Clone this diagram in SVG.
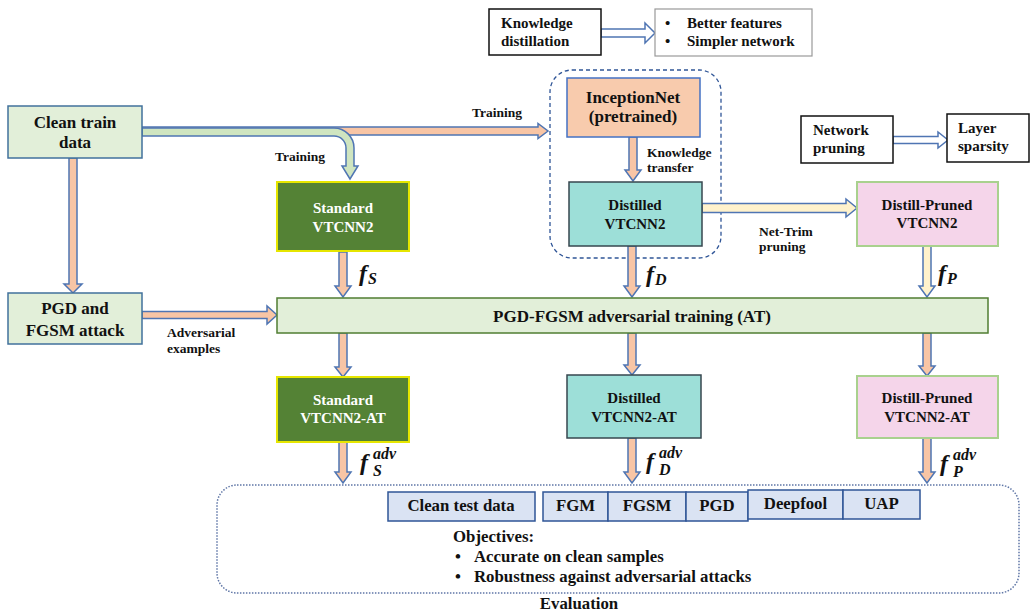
<svg xmlns="http://www.w3.org/2000/svg" width="1031" height="614" viewBox="0 0 1031 614">
  <style>
    text { font-family: "Liberation Serif", "Times New Roman", serif; font-weight: bold; fill: #111; }
    .t17 { font-size: 17px; }
    .t16 { font-size: 16.8px; }
    .t15 { font-size: 15px; }
    .t14 { font-size: 13.5px; }
    .mid { text-anchor: middle; }
    .wht { fill: #ffffff; }
    .math { font-style: italic; }
    .greenbox { fill: #e2efd9; stroke: #41719c; stroke-width: 1.5; }
    .std { fill: #548235; stroke: #e6e600; stroke-width: 2; }
    .dist { fill: #9ddfd8; stroke: #37474f; stroke-width: 1.5; }
    .prun { fill: #f5d5ea; stroke: #a9d18e; stroke-width: 2; }
    .incep { fill: #f8cbad; stroke: #4472c4; stroke-width: 1.5; }
    .note { fill: #ffffff; stroke: #111; stroke-width: 1.5; }
    .note2 { fill: #ffffff; stroke: #999; stroke-width: 1.2; }
    .at { fill: #e2efd9; stroke: #507e32; stroke-width: 1.5; }
    .evalbox { fill: #dae3f3; stroke: #2f5597; stroke-width: 1.5; }
    .arr { fill: #f8c5a5; stroke: #4f75b3; stroke-width: 1.5; stroke-linejoin: miter; }
    .arrY { fill: #fff2cc; stroke: #4f75b3; stroke-width: 1.5; }
    .arrG { fill: #cfe5c0; stroke: #4f75b3; stroke-width: 1.5; }
    .arrW { fill: #ffffff; stroke: #4f75b3; stroke-width: 1.5; }
  </style>

  <!-- group frames -->
  <rect id="kd-frame" x="550" y="70" width="171" height="188" rx="22" fill="none" stroke="#2f5597" stroke-width="1.3" stroke-dasharray="4 3"/>
  <rect id="eval-frame" x="217" y="485" width="802" height="108" rx="20" fill="none" stroke="#5f76a6" stroke-width="1.5" stroke-dasharray="1.5 1.5"/>

  <!-- connectors -->
  <g id="connectors">
    <!-- clean data to teacher training -->
    <path class="arr" d="M142,127 L538,127 L538,123.5 L548,131 L538,138.5 L538,135 L142,135 Z"/>
    <!-- clean data to standard training (curved) -->
    <path class="arrG" d="M142,128 L334,128 A20,20 0 0 1 354,148 L354,166 L358,166 L350,179 L342,166 L346,166 L346,148 A12,12 0 0 0 334,136 L142,136 Z"/>
    <!-- clean data to attack generation -->
    <path class="arr" d="M69,158 L77,158 L77,284 L82,284 L73,293 L64,284 L69,284 Z"/>
    <!-- adversarial examples to AT -->
    <path class="arr" d="M142,311.5 L267,311.5 L267,306 L277,315 L267,324 L267,318.5 L142,318.5 Z"/>
    <!-- knowledge transfer -->
    <path class="arr" d="M629,137 L637,137 L637,170 L641,170 L633,181 L625,170 L629,170 Z"/>
    <!-- Net-Trim pruning -->
    <path class="arrY" d="M702,203.5 L846,203.5 L846,199 L857,208 L846,217 L846,212.5 L702,212.5 Z"/>
    <!-- f_S, f_D, f_P into AT -->
    <path class="arr" d="M339,252 L347,252 L347,286 L351,286 L343,297 L335,286 L339,286 Z"/>
    <path class="arr" d="M628,246 L636,246 L636,286 L640,286 L632,297 L624,286 L628,286 Z"/>
    <path class="arrY" d="M923,246 L931,246 L931,286 L935,286 L927,297 L919,286 L923,286 Z"/>
    <!-- AT outputs -->
    <path class="arr" d="M339,333 L347,333 L347,367 L351,367 L343,377 L335,367 L339,367 Z"/>
    <path class="arr" d="M628,333 L636,333 L636,365 L640,365 L632,375 L624,365 L628,365 Z"/>
    <path class="arr" d="M923,333 L931,333 L931,366 L935,366 L927,376 L919,366 L923,366 Z"/>
    <!-- robust models to evaluation -->
    <path class="arr" d="M339,442 L347,442 L347,472 L351,472 L343,483 L335,472 L339,472 Z"/>
    <path class="arr" d="M628,438 L636,438 L636,472 L640,472 L632,483 L624,472 L628,472 Z"/>
    <path class="arr" d="M923,438 L931,438 L931,472 L935,472 L927,483 L919,472 L923,472 Z"/>
    <!-- legend arrows -->
    <path class="arrW" d="M601,29 L645,29 L645,23 L655,33 L645,43 L645,37 L601,37 Z"/>
    <path class="arrW" d="M893,136.5 L938,136.5 L938,132 L948,140 L938,148 L938,143.5 L893,143.5 Z"/>
  </g>

  <!-- connector labels -->
  <g id="labels">
    <text class="t14" x="472" y="117">Training</text>
    <text class="t14" x="275" y="161">Training</text>
    <text class="t14" x="647" y="157">Knowledge</text>
    <text class="t14" x="647" y="172">transfer</text>
    <text class="t14" x="759" y="236">Net-Trim</text>
    <text class="t14" x="759" y="251">pruning</text>
    <text class="t14" x="167" y="337">Adversarial</text>
    <text class="t14" x="167" y="353">examples</text>
    <text class="math" font-size="24" x="359" y="281">f<tspan font-size="16" dx="1" dy="3">S</tspan></text>
    <text class="math" font-size="24" x="646" y="282">f<tspan font-size="16" dx="1" dy="3">D</tspan></text>
    <text class="math" font-size="24" x="938" y="281">f<tspan font-size="16" dx="1" dy="3">P</tspan></text>
    <text class="math" font-size="24" x="360" y="470">f</text>
    <text class="math" font-size="16" x="373" y="459">adv</text>
    <text class="math" font-size="16" x="373" y="476">S</text>
    <text class="math" font-size="24" x="646" y="469">f</text>
    <text class="math" font-size="16" x="659" y="458">adv</text>
    <text class="math" font-size="16" x="659" y="475">D</text>
    <text class="math" font-size="24" x="940" y="471">f</text>
    <text class="math" font-size="16" x="953" y="460">adv</text>
    <text class="math" font-size="16" x="953" y="477">P</text>
  </g>

  <!-- nodes -->
  <g id="clean-train">
    <rect class="greenbox" x="8" y="106" width="134" height="52"/>
    <text class="t17 mid" x="75" y="128">Clean train</text>
    <text class="t17 mid" x="75" y="148">data</text>
  </g>
  <g id="attack">
    <rect class="greenbox" x="8" y="293" width="134" height="51"/>
    <text class="t17 mid" x="75" y="314">PGD and</text>
    <text class="t17 mid" x="75" y="336">FGSM attack</text>
  </g>
  <g id="kd-note">
    <rect class="note" x="489" y="9" width="112" height="46"/>
    <text class="t15" x="501" y="28">Knowledge</text>
    <text class="t15" x="501" y="46">distillation</text>
  </g>
  <g id="kd-benefits">
    <rect class="note2" x="655" y="9" width="157" height="47"/>
    <text class="t15" x="665" y="28">•</text>
    <text class="t15" x="687" y="28">Better features</text>
    <text class="t15" x="665" y="46">•</text>
    <text class="t15" x="687" y="46">Simpler network</text>
  </g>
  <g id="pruning-note">
    <rect class="note" x="801" y="116" width="92" height="47"/>
    <text class="t15" x="813" y="135">Network</text>
    <text class="t15" x="813" y="153">pruning</text>
  </g>
  <g id="pruning-benefit">
    <rect class="note" x="947" y="114" width="82" height="48"/>
    <text class="t15" x="958" y="133">Layer</text>
    <text class="t15" x="958" y="151">sparsity</text>
  </g>
  <g id="inception">
    <rect class="incep" x="567" y="78" width="133" height="59"/>
    <text class="t17 mid" x="633" y="103">InceptionNet</text>
    <text class="t17 mid" x="633" y="122">(pretrained)</text>
  </g>
  <g id="standard">
    <rect class="std" x="277" y="182" width="132" height="69"/>
    <text class="t15 mid wht" x="343" y="213">Standard</text>
    <text class="t15 mid wht" x="343" y="232">VTCNN2</text>
  </g>
  <g id="distilled">
    <rect class="dist" x="569" y="182" width="133" height="64"/>
    <text class="t15 mid" x="635" y="210">Distilled</text>
    <text class="t15 mid" x="635" y="229">VTCNN2</text>
  </g>
  <g id="distill-pruned">
    <rect class="prun" x="857" y="182" width="141" height="64"/>
    <text class="t15 mid" x="927" y="210">Distill-Pruned</text>
    <text class="t15 mid" x="927" y="228">VTCNN2</text>
  </g>
  <g id="adv-training">
    <rect class="at" x="277" y="298" width="711" height="35"/>
    <text class="t17 mid" x="632" y="322">PGD-FGSM adversarial training (AT)</text>
  </g>
  <g id="standard-at">
    <rect class="std" x="277" y="377" width="132" height="65"/>
    <text class="t15 mid wht" x="343" y="405">Standard</text>
    <text class="t15 mid wht" x="343" y="423">VTCNN2-AT</text>
  </g>
  <g id="distilled-at">
    <rect class="dist" x="567" y="375" width="134" height="63"/>
    <text class="t15 mid" x="634" y="403">Distilled</text>
    <text class="t15 mid" x="634" y="422">VTCNN2-AT</text>
  </g>
  <g id="distill-pruned-at">
    <rect class="prun" x="857" y="376" width="141" height="62"/>
    <text class="t15 mid" x="927" y="403">Distill-Pruned</text>
    <text class="t15 mid" x="927" y="422">VTCNN2-AT</text>
  </g>

  <g id="evaluation">
    <rect class="evalbox" x="388" y="492" width="147" height="29"/>
    <text class="t16 mid" x="461" y="511">Clean test data</text>
    <rect class="evalbox" x="543" y="492" width="65" height="29"/>
    <text class="t16 mid" x="575.5" y="511">FGM</text>
    <rect class="evalbox" x="608" y="492" width="78" height="29"/>
    <text class="t16 mid" x="647" y="511">FGSM</text>
    <rect class="evalbox" x="686" y="492" width="62" height="29"/>
    <text class="t16 mid" x="717" y="511">PGD</text>
    <rect class="evalbox" x="748" y="490" width="95" height="29"/>
    <text class="t16 mid" x="795.5" y="509">Deepfool</text>
    <rect class="evalbox" x="843" y="490" width="77" height="29"/>
    <text class="t16 mid" x="881.5" y="509">UAP</text>
    <text class="t16" x="453" y="542">Objectives:</text>
    <text class="t16" x="455" y="562">•</text>
    <text class="t16" x="474" y="562">Accurate on clean samples</text>
    <text class="t16" x="455" y="582">•</text>
    <text class="t16" x="474" y="582">Robustness against adversarial attacks</text>
    <text class="t16 mid" x="579" y="609">Evaluation</text>
  </g>
</svg>
